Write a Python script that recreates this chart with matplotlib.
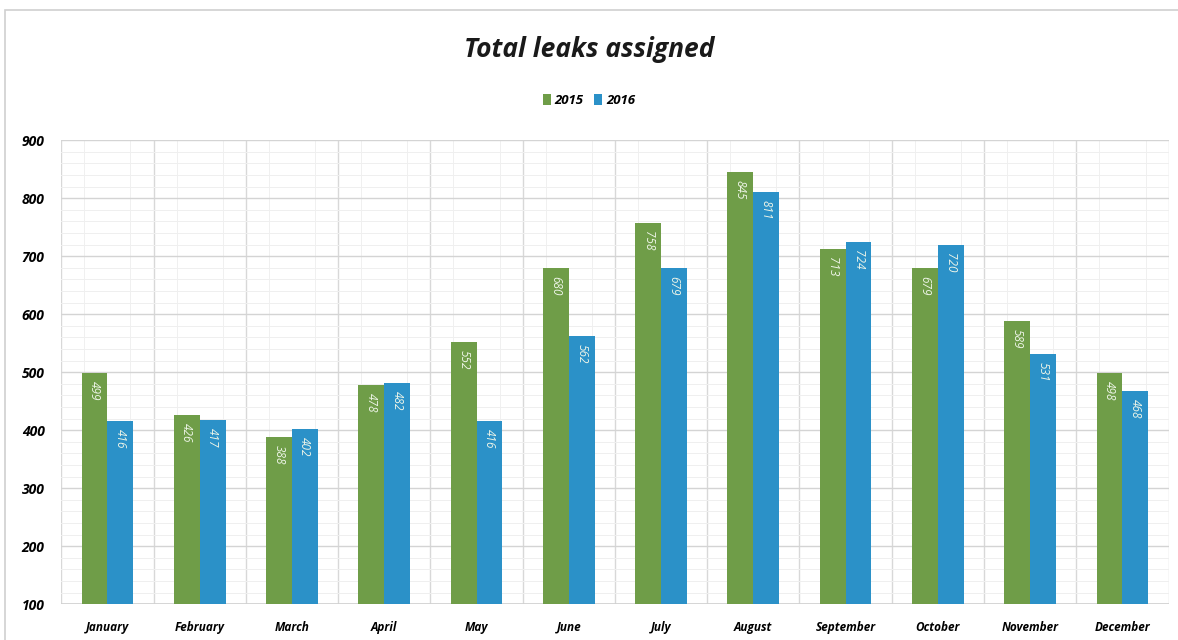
import numpy as np
import matplotlib
matplotlib.use("Agg")
import matplotlib.pyplot as plt
from matplotlib.ticker import MultipleLocator

months = ["January", "February", "March", "April", "May", "June",
          "July", "August", "September", "October", "November", "December"]
leaks_2015 = [499, 426, 388, 478, 552, 680, 758, 845, 713, 679, 589, 498]
leaks_2016 = [416, 417, 402, 482, 416, 562, 679, 811, 724, 720, 531, 468]

green = "#6f9d48"
blue = "#2b91c8"
font = "Open Sans"

fig = plt.figure(figsize=(11.78, 6.4), dpi=100)
ax = fig.add_axes([0.052, 0.056, 0.94, 0.725])

x = np.arange(len(months))
w = 0.28
b1 = ax.bar(x - w / 2, np.array(leaks_2015) - 100, w, bottom=100, color=green, label="2015", zorder=3)
b2 = ax.bar(x + w / 2, np.array(leaks_2016) - 100, w, bottom=100, color=blue, label="2016", zorder=3)

# value labels inside the top of each bar, rotated
for bars, vals in ((b1, leaks_2015), (b2, leaks_2016)):
    for r, v in zip(bars, vals):
        ax.text(r.get_x() + r.get_width() / 2, v - 14, str(v), rotation=270,
                ha="center", va="top", color="#eef5e8", fontsize=8.5,
                style="italic", family=font, zorder=4)

ax.set_xlim(-0.5, len(months) - 0.5)
ax.set_ylim(100, 900)
ax.yaxis.set_major_locator(MultipleLocator(100))
ax.yaxis.set_minor_locator(MultipleLocator(20))
ax.set_xticks(x)
ax.set_xticks(np.arange(-0.5, len(months), 1.0), minor=True)
ax.set_xticklabels(months)
ax.grid(which="major", axis="y", color="#d4d4d4", lw=1.0, zorder=0)
ax.grid(which="minor", axis="y", color="#efefef", lw=0.7, zorder=0)
ax.grid(which="minor", axis="x", color="#d8d8d8", lw=1.0, zorder=0)
for xm in np.arange(-0.25, len(months), 0.5):
    ax.axvline(xm, color="#f0f0f0", lw=0.7, zorder=0)

ax.tick_params(which="both", length=0)
ax.tick_params(axis="y", pad=12)
ax.tick_params(axis="x", pad=12)
for lab in ax.get_xticklabels():
    lab.set_fontfamily(font)
    lab.set_fontweight("bold")
    lab.set_fontstyle("italic")
    lab.set_fontsize(8.5)
for lab in ax.get_yticklabels():
    lab.set_fontfamily(font)
    lab.set_fontweight("bold")
    lab.set_fontstyle("italic")
    lab.set_fontsize(10)
for s in ax.spines.values():
    s.set_visible(False)
ax.axhline(100, color="#d0d0d0", lw=1.2, zorder=2)

fig.text(0.5, 0.922, "Total leaks assigned", ha="center", va="center",
         fontsize=19, fontweight="bold", style="italic", family=font, color="#1a1a1a")
leg = fig.legend(loc="center", bbox_to_anchor=(0.5, 0.843), ncol=2, frameon=False,
                 handlelength=0.6, handleheight=0.9, handletextpad=0.3, columnspacing=0.8,
                 prop={"family": font, "weight": "bold", "style": "italic", "size": 9.5})

# outer frame of the chart
fig.patches.append(plt.Rectangle((0.004, -0.01), 1.2, 0.995, transform=fig.transFigure,
                                 fill=False, edgecolor="#d0d0d0", lw=1.2))

fig.savefig("out.png", dpi=100)
